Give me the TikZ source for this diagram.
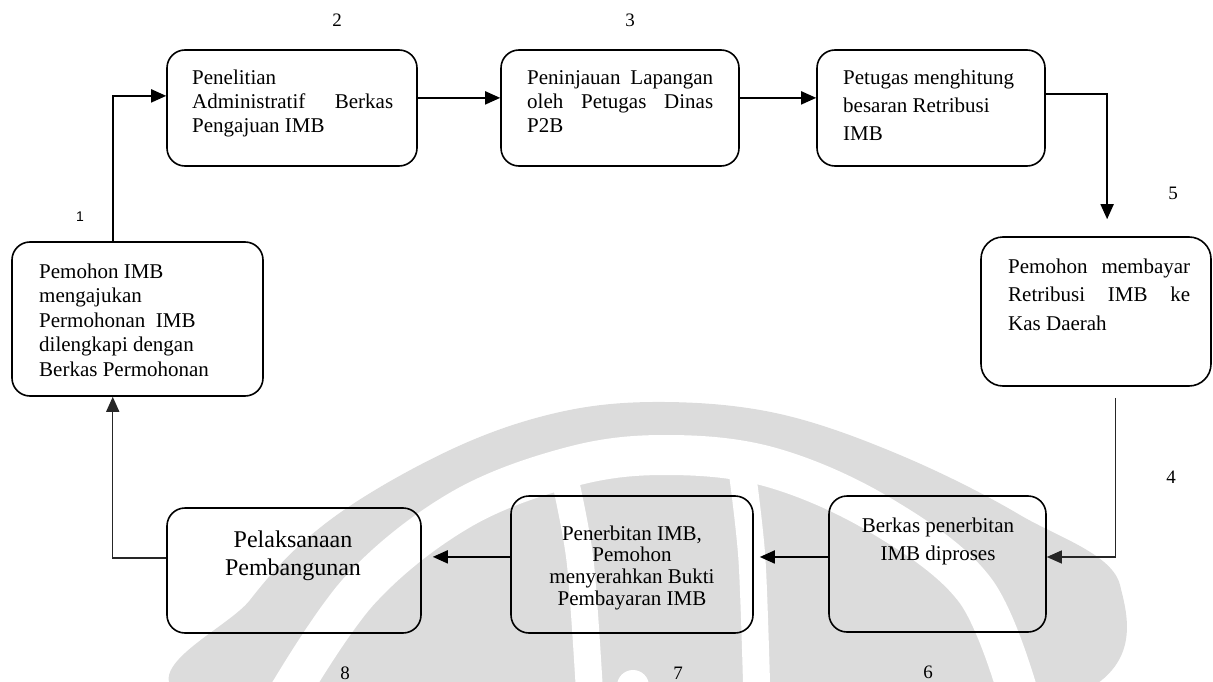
\documentclass[tikz,border=0pt]{standalone}
\usepackage{fontspec}
\setmainfont{Liberation Serif}
\newfontfamily\numsans{Liberation Sans}
\usetikzlibrary{arrows.meta,calc}

\definecolor{markgray}{RGB}{220,220,220}

\tikzset{
  box/.style={draw, line width=1.6pt, rounded corners=18pt, inner sep=0pt},
  txt/.style={inner sep=0pt, anchor=base west},
  ctxt/.style={inner sep=0pt, anchor=base},
  flow/.style={line width=1.8pt, -{Triangle[length=15pt,width=13pt]}},
  thinflow/.style={line width=1.3pt, draw=black!85, -{Triangle[length=15pt,width=13pt]}},
  num/.style={inner sep=0pt, font=\fontsize{19pt}{19pt}\selectfont},
  gap/.style={draw=white, line cap=butt},
}

\begin{document}
\begin{tikzpicture}[x=1pt,y=-1pt]
\useasboundingbox (0,0) rectangle (1213,682);

% faint emblem in the background
\begin{scope}
  \clip (0,0) rectangle (1213,682);
  \fill[markgray] plot[smooth cycle, tension=0.6] coordinates {
    (190,700) (250,600) (330,520) (450,450) (560,412) (665,402) (780,414)
    (900,455) (1020,515) (1120,585) (1065,700) (640,760)};
  \draw[gap, line width=40pt] plot[smooth, tension=0.6] coordinates {
    (285,700) (360,590) (460,510) (570,467) (665,455) (770,467) (880,515)
    (975,590) (1020,700)};
  \draw[gap, line width=27pt] plot[smooth] coordinates {(563,470) (580,560) (590,700)};
  \draw[gap, line width=27pt] plot[smooth] coordinates {(742,470) (752,560) (757,700)};
  \fill[white] (633,686) circle (16pt);
\end{scope}

% process boxes
\node[box, minimum width=251pt, minimum height=154pt] (b1) at (137.5,319) {};
\node[box, minimum width=250pt, minimum height=116pt] (b2) at (292,108) {};
\node[box, minimum width=238pt, minimum height=116pt] (b3) at (620,108) {};
\node[box, minimum width=228pt, minimum height=116pt] (b4) at (931,108) {};
\node[box, minimum width=230pt, minimum height=149pt, rounded corners=22pt] (b5) at (1096,311.5) {};
\node[box, minimum width=217pt, minimum height=136pt] (b6) at (937.5,564) {};
\node[box, minimum width=242pt, minimum height=137pt] (b7) at (632,564.5) {};
\node[box, minimum width=254pt, minimum height=125pt] (b8) at (294,570.5) {};

% box texts
\node[txt] (t1) at (39,278) {\parbox[t]{220pt}{\fontsize{21pt}{24.5pt}\selectfont
  Pemohon IMB\\ mengajukan\\ Permohonan\ \ IMB\\ dilengkapi dengan\\ Berkas Permohonan}};
\node[txt] (t2) at (192,85) {\parbox[t]{201pt}{\fontsize{21pt}{24pt}\selectfont
  Penelitian\\ \makebox[\linewidth][s]{Administratif Berkas}\\ Pengajuan IMB}};
\node[txt] (t3) at (527,85) {\parbox[t]{186pt}{\fontsize{21pt}{24pt}\selectfont
  \makebox[\linewidth][s]{Peninjauan Lapangan}\\ \makebox[\linewidth][s]{oleh Petugas Dinas}\\ P2B}};
\node[txt] (t4) at (843,85) {\parbox[t]{190pt}{\fontsize{21pt}{28pt}\selectfont
  Petugas menghitung\\ besaran Retribusi\\ IMB}};
\node[txt] (t5) at (1008,273) {\parbox[t]{182pt}{\fontsize{21pt}{28.5pt}\selectfont
  \makebox[\linewidth][s]{Pemohon membayar}\\ \makebox[\linewidth][s]{Retribusi IMB ke}\\ Kas Daerah}};
\node[ctxt] (t6) at (938,532) {\parbox[t]{200pt}{\centering\fontsize{21pt}{28pt}\selectfont
  Berkas penerbitan\\ IMB diproses}};
\node[ctxt] (t7) at (632,540) {\parbox[t]{230pt}{\centering\fontsize{21pt}{21.7pt}\selectfont
  Penerbitan IMB,\\ Pemohon\\ menyerahkan Bukti\\ Pembayaran IMB}};
\node[ctxt] (t8) at (293,547) {\parbox[t]{230pt}{\centering\fontsize{24pt}{28pt}\selectfont
  Pelaksanaan\\ Pembangunan}};

% step numbers
\node[inner sep=0pt, font=\numsans\fontsize{14pt}{14pt}\selectfont] (n1) at (80,217) {1};
\node[num] (n2) at (337,20) {2};
\node[num] (n3) at (630,20) {3};
\node[num] (n5) at (1173,193) {5};
\node[num] (n4) at (1171,477) {4};
\node[num] (n6) at (928,672) {6};
\node[num] (n7) at (678,673) {7};
\node[num] (n8) at (345,673) {8};

% connectors
\coordinate (s12) at ($(b1.north west)!0.402!(b1.north east)$);
\coordinate (e12) at ($(b2.north west)!0.397!(b2.south west)$);
\draw[flow] (s12) |- (e12);

\coordinate (s23) at ($(b2.north east)!0.414!(b2.south east)$);
\draw[flow] (s23) -- (s23 -| b3.west);

\coordinate (s34) at ($(b3.north east)!0.414!(b3.south east)$);
\draw[flow] (s34) -- (s34 -| b4.west);

\coordinate (s45) at ($(b4.north east)!0.38!(b4.south east)$);
\coordinate (e45) at ($(b5.north west)!0.548!(b5.north east)$);
\draw[flow, shorten >=17pt] (s45) -| (e45);

\coordinate (s56) at ($(b5.south west)!0.583!(b5.south east)$);
\coordinate (e56) at ($(b6.north east)!0.449!(b6.south east)$);
\draw[thinflow, line width=1.2pt, shorten <=11pt] (s56) |- (e56);

\coordinate (s67) at ($(b6.north west)!0.449!(b6.south west)$);
\draw[flow, shorten >=6pt] (s67) -- (s67 -| b7.east);

\coordinate (s78) at ($(b7.north west)!0.445!(b7.south west)$);
\draw[flow, shorten >=11pt] (s78) -- (s78 -| b8.east);

\coordinate (s81) at ($(b8.north west)!0.4!(b8.south west)$);
\coordinate (e81) at ($(b1.south west)!0.402!(b1.south east)$);
\draw[thinflow, line width=1.5pt] (s81) -| (e81);
\end{tikzpicture}
\end{document}
